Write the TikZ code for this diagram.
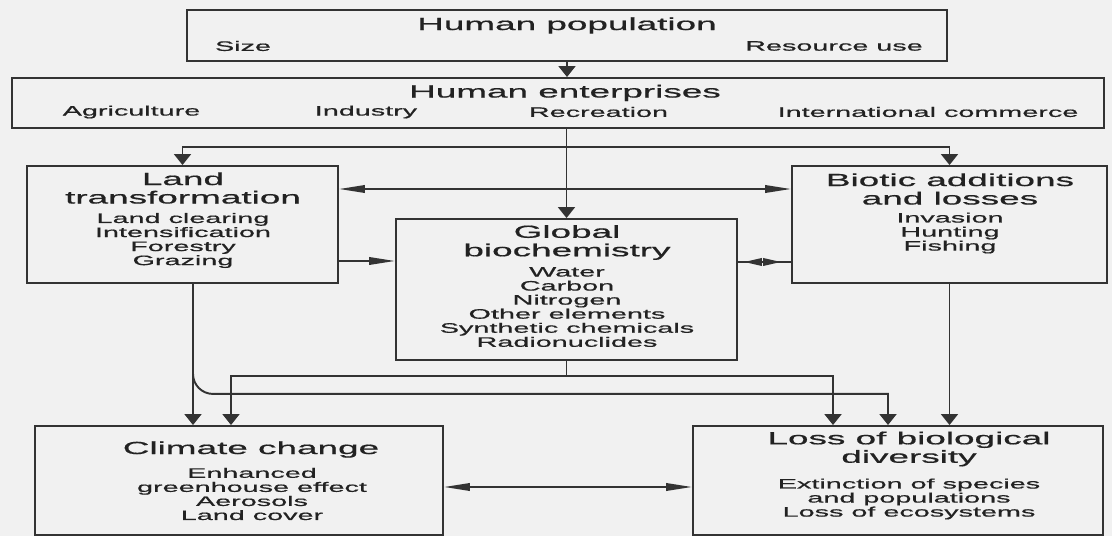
\documentclass[tikz,border=0pt]{standalone}
\usepackage{fontspec}
\setmainfont{Liberation Sans}[FakeStretch=2.1,FakeBold=0.7]
\usetikzlibrary{arrows.meta,positioning}
\definecolor{cLine}{HTML}{333333}
\definecolor{cText}{HTML}{222222}
\definecolor{cPaper}{HTML}{F1F1F1}
\tikzset{
  vtip/.tip={Triangle[width=0.34cm,length=0.22cm]},
  htip/.tip={Triangle[width=0.15cm,length=0.52cm]},
  stip/.tip={Triangle[width=0.15cm,length=0.36cm]},
  panel/.style={draw=cLine,line width=1.1pt,inner sep=0pt},
  ttl/.style={font=\fontsize{10}{10.5}\selectfont,text=cText,align=center,inner sep=0pt},
  itm/.style={font=\fontsize{7.8}{8}\selectfont,text=cText,align=center,inner sep=0pt},
  wire/.style={draw=cLine,line width=1.1pt},
  varrow/.style={wire,-vtip},
  harrow/.style={wire,-htip},
  hboth/.style={wire,htip-htip},
  sboth/.style={wire,stip-stip},
}
\begin{document}
\begin{tikzpicture}[x=0.02cm,y=-0.02cm]
  \useasboundingbox[fill=cPaper] (0,0) rectangle (1112,536);
  % boxes
  \node[panel,minimum width=15.2cm,minimum height=1.02cm] (pop) at (567,35.5) {};
  \node[panel,minimum width=21.84cm,minimum height=1.0cm] (ent) at (558,103) {};
  \node[panel,minimum width=6.22cm,minimum height=2.34cm] (land) at (182.5,224.5) {};
  \node[panel,minimum width=6.3cm,minimum height=2.34cm] (biot) at (949.5,224.5) {};
  \node[panel,minimum width=6.82cm,minimum height=2.82cm] (glob) at (566.5,289.5) {};
  \node[panel,minimum width=8.16cm,minimum height=2.18cm] (clim) at (239,480.5) {};
  \node[panel,minimum width=8.2cm,minimum height=2.18cm] (loss) at (898,480.5) {};
  % texts
  \node[ttl] (popT) at (567,25.5) {Human population};
  \node[itm] (popA) at (243,46) {Size};
  \node[itm] (popB) at (834,46) {Resource use};
  \node[ttl] (entT) at (565,93) {Human enterprises};
  \node[itm] (entA) at (131.5,112) {Agriculture};
  \node[itm] (entB) at (366,112) {Industry};
  \node[itm] (entC) at (598.5,112) {Recreation};
  \node[itm] (entD) at (928,112) {International commerce};
  \node[ttl] (landT) at (183,188) {Land\\transformation};
  \node[itm] (landL) at (183,240.5) {Land clearing\\Intensification\\Forestry\\Grazing};
  \node[ttl] (globT) at (567,242.5) {Global\\biochemistry};
  \node[itm] (globL) at (567,307) {Water\\Carbon\\Nitrogen\\Other elements\\Synthetic chemicals\\Radionuclides};
  \node[ttl] (biotT) at (950,189) {Biotic additions\\and losses};
  \node[itm] (biotL) at (950,233) {Invasion\\Hunting\\Fishing};
  \node[ttl] (climT) at (251,449.5) {Climate change};
  \node[itm] (climL) at (252,494) {Enhanced\\greenhouse effect\\Aerosols\\Land cover};
  \node[ttl] (lossT) at (909,449) {Loss of biological\\diversity};
  \node[itm] (lossL) at (909,499) {Extinction of species\\and populations\\Loss of ecosystems};
  % connectors
  \coordinate (fork) at (566.5,147);
  \coordinate (landdrop) at ([xshift=0.21cm]land.south);
  \coordinate (gsplit) at ([yshift=-0.3cm]glob.south);
  \draw[varrow] (pop.south) -- (pop.south |- ent.north);
  \draw[varrow] (ent.south -| glob.north) -- (glob.north);
  \draw[varrow] (fork) -| (land.north);
  \draw[varrow] (fork) -| (biot.north);
  \draw[hboth] ([yshift=0.71cm]land.east) -- ([yshift=0.71cm]land.east -| biot.west);
  \draw[harrow] ([yshift=-0.73cm]land.east) -- ([yshift=-0.73cm]land.east -| glob.west);
  \draw[wire] ([yshift=-0.75cm]biot.west -| glob.east) -- ([yshift=-0.75cm]biot.west);
  \draw[sboth,shorten <=0.12cm,shorten >=0.2cm] ([yshift=-0.75cm]biot.west -| glob.east) -- ([yshift=-0.75cm]biot.west);
  \draw[varrow] (landdrop) -- (landdrop |- clim.north);
  \draw[varrow] ([yshift=-1.8cm]landdrop) arc[start angle=180,end angle=270,radius=0.4cm] -| ([xshift=-0.2cm]loss.north);
  \draw[wire] (glob.south) -- (gsplit);
  \draw[varrow] (gsplit) -| ([xshift=-0.16cm]clim.north);
  \draw[varrow] (gsplit) -| ([xshift=-1.3cm]loss.north);
  \draw[varrow] (biot.south) -- (biot.south |- loss.north);
  \draw[hboth] ([yshift=-0.13cm]clim.east) -- ([yshift=-0.13cm]clim.east -| loss.west);
\end{tikzpicture}
\end{document}
